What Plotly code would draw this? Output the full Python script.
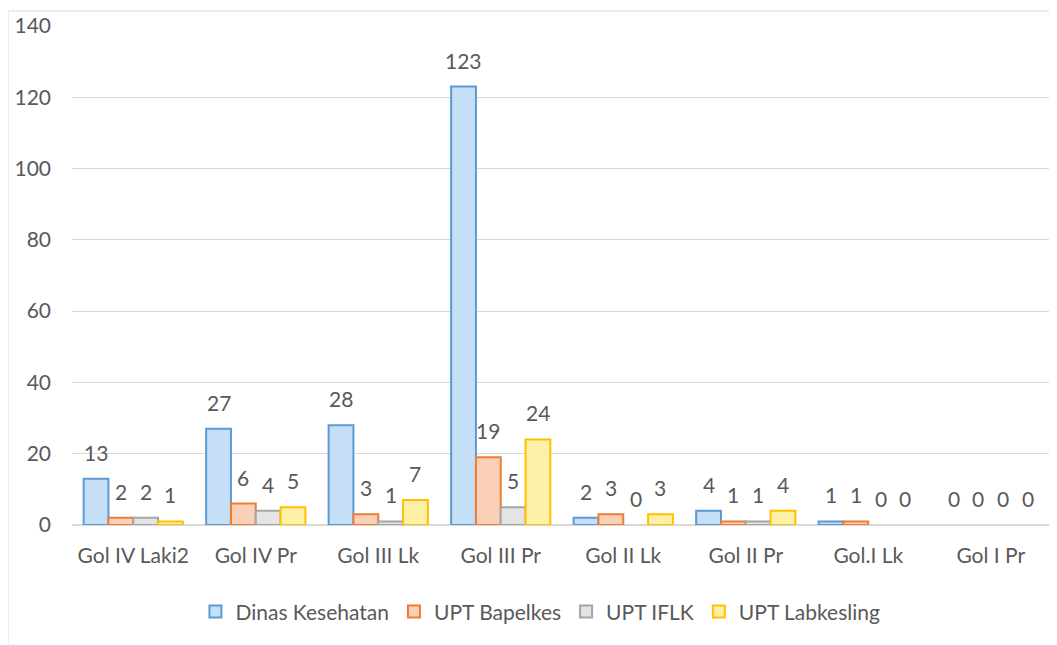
import plotly.graph_objects as go

categories = ["Gol IV Laki2", "Gol IV Pr", "Gol III Lk", "Gol III Pr", "Gol II Lk", "Gol II Pr", "Gol.I Lk", "Gol I Pr"]
dinas = [13, 27, 28, 123, 2, 4, 1, 0]
bapelkes = [2, 6, 3, 19, 3, 1, 1, 0]
iflk = [2, 4, 1, 5, 0, 1, 0, 0]
labkesling = [1, 5, 7, 24, 3, 4, 0, 0]
y_ticks = [0, 20, 40, 60, 80, 100, 120, 140]

series = [
    ("Dinas Kesehatan", dinas, "#C6DFF8", "#5B9BD5"),
    ("UPT Bapelkes", bapelkes, "#FAD0B8", "#ED7D31"),
    ("UPT IFLK", iflk, "#E4E4E4", "#A5A5A5"),
    ("UPT Labkesling", labkesling, "#FFF0A8", "#FFC000"),
]

W, H = 1049, 637
ML, MR, MT, MB = 64, 5, 18, 120
BARGAP = 0.19
FS = 21
GRAY = "#595959"

fig = go.Figure()
for name, vals, fill, line in series:
    fig.add_trace(go.Bar(
        x=categories, y=[v if v != 0 else None for v in vals], name=name,
        marker=dict(color=fill, line=dict(color=line, width=2)),
        cliponaxis=False,
    ))

# value labels above bars (offset within group)
plot_w = W - ML - MR
bar_px = plot_w / len(categories) * (1 - BARGAP) / len(series)
annotations = []
for si, (name, vals, fill, line) in enumerate(series):
    for cat, v in zip(categories, vals):
        annotations.append(dict(
            x=cat, y=v, xref="x", yref="y", text=str(v), showarrow=False,
            xanchor="center", yanchor="bottom",
            xshift=(si - (len(series) - 1) / 2) * bar_px, yshift=12,
            font=dict(size=FS, color=GRAY, family="Lato"),
        ))

fig.update_layout(
    width=W, height=H,
    barmode="group", bargap=BARGAP, bargroupgap=0,
    paper_bgcolor="white", plot_bgcolor="white",
    margin=dict(l=ML, r=MR, t=MT, b=MB, autoexpand=False),
    font=dict(family="Lato, Open Sans, sans-serif", size=FS, color=GRAY),
    showlegend=True,
    legend=dict(orientation="h", x=0.478, xanchor="center", y=-0.133, yanchor="top",
                font=dict(size=FS, color=GRAY), traceorder="normal"),
    annotations=annotations,
)
fig.update_yaxes(range=[0, 140], tickvals=y_ticks, showgrid=True, gridcolor="#D9D9D9",
                 gridwidth=1, zeroline=True, zerolinecolor="#D9D9D9", zerolinewidth=2,
                 showline=False, tickfont=dict(size=FS, color=GRAY), ticklabelstandoff=20)
fig.update_xaxes(showline=False, showgrid=False, tickfont=dict(size=FS, color=GRAY),
                 ticklabelstandoff=16)

# chart border
fig.add_shape(type="line", xref="paper", yref="paper", x0=-0.0653, x1=1.1, y0=1.03, y1=1.03,
              line=dict(color="#D9D9D9", width=1))
fig.add_shape(type="line", xref="paper", yref="paper", x0=-0.0653, x1=-0.0653, y0=1.03, y1=-0.3,
              line=dict(color="#D9D9D9", width=1))

fig.write_html("out.html")
